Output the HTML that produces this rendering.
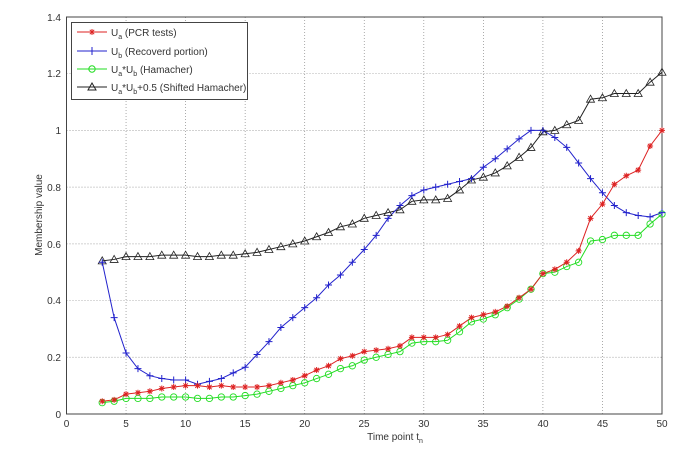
<!DOCTYPE html>
<html><head><meta charset="utf-8"><style>
body{margin:0;background:#fff;}
svg{display:block;font-family:"Liberation Sans",sans-serif;}
</style></head><body>
<svg id="s" width="700" height="450" xmlns="http://www.w3.org/2000/svg">
<rect width="700" height="450" fill="#fff"/>
<g id="grid" stroke="#888" stroke-width="0.7" stroke-dasharray="1,2"></g>
<rect x="66.5" y="17" width="595.5" height="397" fill="none" stroke="#444" stroke-width="1"/>
<g font-size="10" fill="#333" text-anchor="end">
<text x="61" y="418">0</text><text x="61" y="361">0.2</text><text x="61" y="304">0.4</text>
<text x="61" y="248">0.6</text><text x="61" y="191">0.8</text><text x="61" y="134">1</text>
<text x="61" y="77">1.2</text><text x="61" y="21">1.4</text>
</g>
<g font-size="10" fill="#333" text-anchor="middle">
<text x="66.5" y="427">0</text><text x="126" y="427">5</text><text x="185.6" y="427">10</text>
<text x="245" y="427">15</text><text x="304.7" y="427">20</text><text x="364" y="427">25</text>
<text x="423.8" y="427">30</text><text x="483" y="427">35</text><text x="543" y="427">40</text>
<text x="602.5" y="427">45</text><text x="662" y="427">50</text>
</g>
<text x="395" y="440" font-size="10" fill="#333" text-anchor="middle">Time point t<tspan font-size="7" dy="3">n</tspan></text>
<text transform="translate(42,215) rotate(-90)" font-size="10" fill="#333" text-anchor="middle">Membership value</text>
<g id="series"></g>
<rect x="71.5" y="22.5" width="176" height="77" fill="#fff" stroke="#444" stroke-width="1"/>
<g font-size="10" fill="#333">
<line x1="77" y1="32" x2="107" y2="32" stroke="#d22" stroke-width="1"/>
<path d="M89,32h6M92,29v6M89.8,29.8l4.4,4.4M94.2,29.8l-4.4,4.4" stroke="#d22" stroke-width="1"/>
<text x="111" y="36">U<tspan font-size="7" dy="3">a</tspan><tspan dy="-3"> (PCR tests)</tspan></text>
<line x1="77" y1="51" x2="107" y2="51" stroke="#22c" stroke-width="1"/>
<line x1="92" y1="47" x2="92" y2="55" stroke="#22c"/><line x1="88" y1="51" x2="96" y2="51" stroke="#22c"/>
<text x="111" y="55">U<tspan font-size="7" dy="3">b</tspan><tspan dy="-3"> (Recoverd portion)</tspan></text>
<line x1="77" y1="69" x2="107" y2="69" stroke="#2d2" stroke-width="1"/>
<circle cx="92" cy="69" r="3.2" fill="none" stroke="#2d2"/>
<text x="111" y="73">U<tspan font-size="7" dy="3">a</tspan><tspan dy="-3">*U</tspan><tspan font-size="7" dy="3">b</tspan><tspan dy="-3"> (Hamacher)</tspan></text>
<line x1="77" y1="87" x2="107" y2="87" stroke="#222" stroke-width="1"/>
<polygon points="92,83 96,90 88,90" fill="none" stroke="#222"/>
<text x="111" y="91">U<tspan font-size="7" dy="3">a</tspan><tspan dy="-3">*U</tspan><tspan font-size="7" dy="3">b</tspan><tspan dy="-3">+0.5 (Shifted Hamacher)</tspan></text>
</g>
</svg>
<script>
var X=t=>66.5+t*11.91, Y=v=>414-v*283.6;
var NS="http://www.w3.org/2000/svg";
function el(p,n,a){var e=document.createElementNS(NS,n);for(var k in a)e.setAttribute(k,a[k]);p.appendChild(e);return e;}
var g=document.getElementById('grid');
for(var t=5;t<50;t+=5)el(g,'line',{x1:X(t),x2:X(t),y1:17,y2:414});
for(var v=0.2;v<1.39;v+=0.2)el(g,'line',{x1:66.5,x2:662,y1:Y(v),y2:Y(v)});
var ua=[.045,.05,.07,.075,.08,.09,.095,.1,.1,.095,.1,.095,.095,.095,.1,.11,.12,.135,.155,.17,.195,.205,.22,.225,.23,.24,.27,.27,.27,.28,.31,.34,.35,.36,.38,.41,.44,.495,.51,.535,.575,.69,.74,.81,.84,.86,.945,1.0];
var ub=[.535,.34,.215,.16,.135,.125,.12,.12,.105,.115,.125,.145,.165,.21,.255,.305,.34,.375,.41,.455,.49,.535,.58,.63,.69,.735,.77,.79,.8,.81,.82,.83,.87,.9,.935,.97,1.0,1.0,.975,.94,.885,.83,.78,.735,.71,.7,.695,.71];
var gr=[.04,.045,.055,.055,.055,.06,.06,.06,.055,.055,.06,.06,.065,.07,.08,.09,.1,.11,.125,.14,.16,.17,.19,.2,.21,.22,.25,.255,.255,.26,.29,.325,.335,.35,.375,.405,.44,.495,.5,.52,.535,.61,.615,.63,.63,.63,.67,.705];
var bk=gr.map(v=>v+0.5);
var s=document.getElementById('series');
function line(d,c){el(s,'polyline',{points:d.map((v,i)=>X(i+3)+','+Y(v)).join(' '),fill:'none',stroke:c,'stroke-width':1});}
line(bk,'#222');line(gr,'#2d2');line(ub,'#22c');line(ua,'#d22');
bk.forEach((v,i)=>{var x=X(i+3),y=Y(v);el(s,'polygon',{points:x+','+(y-4)+' '+(x+4)+','+(y+3)+' '+(x-4)+','+(y+3),fill:'none',stroke:'#222','stroke-width':0.8});});
gr.forEach((v,i)=>el(s,'circle',{cx:X(i+3),cy:Y(v),r:3.2,fill:'none',stroke:'#2d2','stroke-width':0.9}));
ub.forEach((v,i)=>{var x=X(i+3),y=Y(v);el(s,'path',{d:'M'+(x-3.5)+','+y+'h7M'+x+','+(y-3.5)+'v7',stroke:'#22c','stroke-width':1});});
ua.forEach((v,i)=>{var x=X(i+3),y=Y(v);el(s,'path',{d:'M'+(x-3)+','+y+'h6M'+x+','+(y-3)+'v6M'+(x-2.2)+','+(y-2.2)+'l4.4,4.4M'+(x+2.2)+','+(y-2.2)+'l-4.4,4.4',stroke:'#d22','stroke-width':1});});
</script>
</body></html>
